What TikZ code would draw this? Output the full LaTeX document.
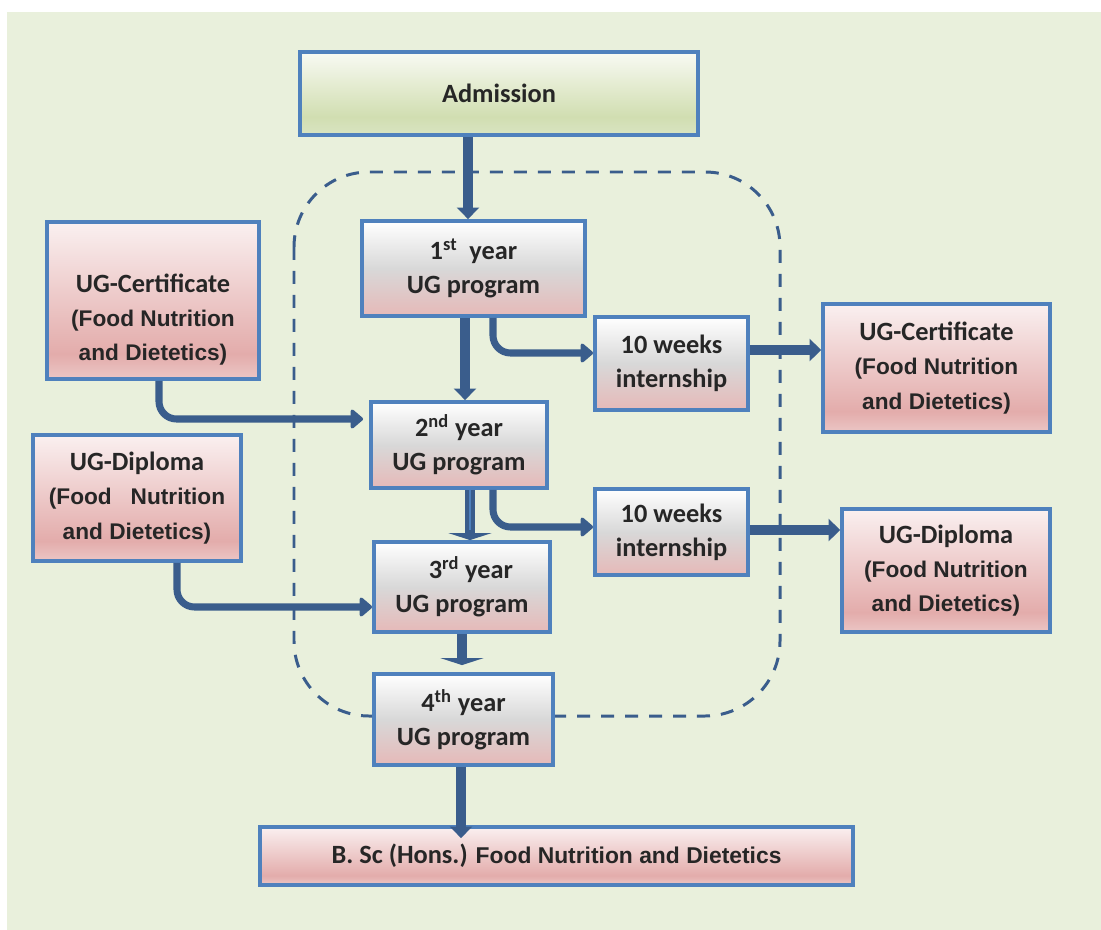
\documentclass[tikz,border=0pt]{standalone}
\usepackage{fontspec}
\setmainfont{Carlito}
\newfontfamily\arialfont{Liberation Sans}
\usetikzlibrary{arrows.meta}

\definecolor{bggreen}{HTML}{E9F0DC}
\definecolor{boxblue}{HTML}{4F81BD}
\definecolor{arrowblue}{HTML}{3A5D8C}
\definecolor{inkdark}{HTML}{262626}
\definecolor{pinkbot}{HTML}{E6B9B8}
\definecolor{graymid}{HTML}{D8D8D8}
\definecolor{pinklow}{HTML}{EBC6C5}
\definecolor{pinkdeep}{HTML}{E3ACAB}
\definecolor{pinktop}{HTML}{FAF0F0}
\definecolor{grlow}{HTML}{D9E4C2}
\definecolor{grdeep}{HTML}{D1DEB1}
\definecolor{grtop}{HTML}{F8FAF3}

\pgfdeclareverticalshading{yearfill}{100bp}{color(0bp)=(pinkbot); color(25bp)=(pinkbot); color(50bp)=(graymid); color(75bp)=(white); color(100bp)=(white)}
\pgfdeclareverticalshading{pinkfill}{100bp}{color(0bp)=(pinklow); color(25bp)=(pinklow); color(33bp)=(pinkdeep); color(75bp)=(pinktop); color(100bp)=(pinktop)}
\pgfdeclareverticalshading{greenfill}{100bp}{color(0bp)=(grlow); color(25bp)=(grlow); color(36bp)=(grdeep); color(75bp)=(grtop); color(100bp)=(grtop)}

\newcommand\foodf{\arialfont\bfseries\fontsize{12.9}{19.5}\selectfont}

\tikzstyle{box} = [rectangle, draw=boxblue, line width=2.2pt, inner sep=0pt, align=center, text=inkdark, font=\bfseries\fontsize{15}{19.5}\selectfont]
\tikzstyle{yr} = [box, shading=yearfill]
\tikzstyle{pk} = [box, shading=pinkfill]
\tikzstyle{gr} = [box, shading=greenfill]
\tikzstyle{arr} = [draw=arrowblue, line width=5.6pt, -{Triangle[width=0.44cm,length=0.23cm]}]
\tikzstyle{arrw} = [arr, -{Triangle[width=0.86cm,length=0.14cm]}]
\tikzstyle{arrc} = [draw=arrowblue, line width=4pt, rounded corners=0.35cm, -{Triangle[width=0.44cm,length=0.27cm,round]}]
\tikzstyle{dashbox} = [draw=arrowblue, line width=1.7pt, dash pattern=on 0.26cm off 0.22cm, rounded corners=1.5cm]

\begin{document}
\begin{tikzpicture}[x=0.02cm, y=-0.02cm]
\useasboundingbox (0,0) rectangle (1101,929);
\fill [white] (0,0) rectangle (1101,929);
\fill [bggreen] (7,12) rectangle (1110,940);

% loop of the four years
\draw [dashbox] (294,172) rectangle (780,716);

\node [gr, minimum width=7.96cm, minimum height=1.66cm] (adm) at (499,93.5) {Admission};
\node [yr, minimum width=4.46cm, minimum height=1.9cm] (y1) at (473.5,268.5) {1\textsuperscript{st}\ \ year\\UG program};
\node [yr, minimum width=3.52cm, minimum height=1.72cm] (y2) at (459,445) {2\textsuperscript{nd} year\\UG program};
\node [yr, minimum width=3.52cm, minimum height=1.8cm] (y3) at (462,587) {\ \ \ 3\textsuperscript{rd} year\\UG program};
\node [yr, minimum width=3.58cm, minimum height=1.82cm] (y4) at (463.5,719.5) {4\textsuperscript{th} year\\UG program};
\node [yr, minimum width=3.06cm, minimum height=1.86cm] (int1) at (671.5,363.5) {10 weeks\\internship};
\node [yr, minimum width=3.06cm, minimum height=1.72cm] (int2) at (671.5,532) {10 weeks\\internship};

\node [pk, minimum width=4.24cm, minimum height=3.14cm] (certL) at (153,300.5) {\rule{0pt}{32pt}UG-Certificate\\{\foodf (Food Nutrition}\\{\foodf and Dietetics)}};
\node [pk, minimum width=4.16cm, minimum height=2.52cm] (dipL) at (137,498) {UG-Diploma\\{\foodf (Food\ \ \ Nutrition}\\{\foodf and Dietetics)}};
\node [pk, minimum width=4.54cm, minimum height=2.56cm] (certR) at (936.5,368) {UG-Certificate\\{\foodf (Food Nutrition}\\{\foodf and Dietetics)}};
\node [pk, minimum width=4.16cm, minimum height=2.46cm] (dipR) at (946,570.5) {UG-Diploma\\{\foodf (Food Nutrition}\\{\foodf and Dietetics)}};
\node [pk, minimum width=11.86cm, minimum height=1.16cm] (bsc) at (556.5,856) {B. Sc (Hons.) {\arialfont\bfseries\fontsize{13}{15}\selectfont Food Nutrition and Dietetics}};

% straight arrows
\draw [arr] ([xshift=-0.11cm]y1.north |- adm.south) -- ([xshift=-0.11cm]y1.north);
\draw [arr] ([xshift=-0.17cm]y1.south) -- ([xshift=-0.17cm]y1.south |- y2.north);
\draw [arrw] ([xshift=0.22cm]y2.south) -- ([xshift=0.22cm]y2.south |- y3.north);
\draw [boxblue, line width=0.8pt, shorten >=0.2cm] ([xshift=0.22cm]y2.south) -- ([xshift=0.22cm]y2.south |- y3.north);
\draw [arrw] (y3.south) -- ([yshift=0.14cm]y3.south |- y4.north);
\draw [arr] ([xshift=-0.05cm]y4.south) -- ([xshift=-0.05cm,yshift=-0.26cm]y4.south |- bsc.north);
\draw [arr] ([yshift=0.27cm]int1.east) -- ([yshift=0.27cm]int1.east -| certR.west);
\draw [arr] ([yshift=0.04cm]int2.east) -- ([yshift=0.04cm]int2.east -| dipR.west);

% bent arrows
\draw [arrc] ([xshift=0.39cm]y1.south) |- ([yshift=0.21cm]int1.west);
\draw [arrc] ([xshift=0.68cm]y2.south) |- ([yshift=0.1cm]int2.west);
\draw [arrc] ([xshift=0.12cm]certL.south) |- ([xshift=-0.12cm,yshift=0.52cm]y2.west);
\draw [arrc] ([xshift=0.8cm]dipL.south) |- ([yshift=-0.4cm]y3.west);
\end{tikzpicture}
\end{document}
